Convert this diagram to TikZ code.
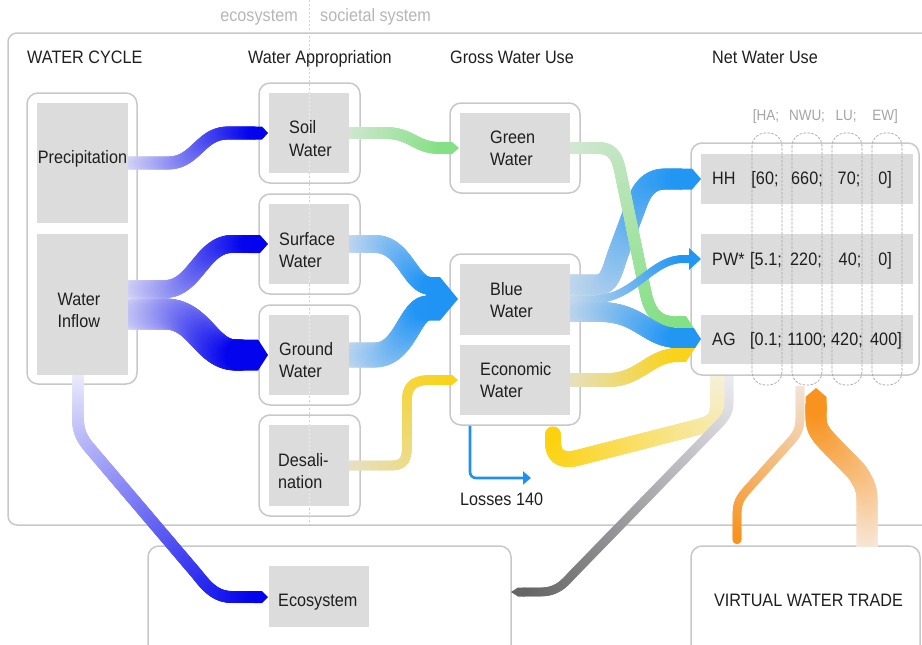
\documentclass[tikz,border=0pt]{standalone}
\usepackage{fontspec}
\setmainfont{Liberation Sans}[FakeStretch=0.9]
\usetikzlibrary{decorations.markings,calc,fit,arrows.meta}
\definecolor{bxline}{HTML}{C8C8C8}
\definecolor{bxfill}{HTML}{DCDCDC}
\definecolor{ink}{HTML}{1F1F1F}
\definecolor{faint}{HTML}{A4A4A4}
\definecolor{vl}{HTML}{D2D2D2}
\definecolor{vlb}{HTML}{EEEEEE}
\definecolor{pA}{HTML}{DADAF5}
\definecolor{pC}{HTML}{EEEEFB}
\definecolor{pB}{HTML}{0303EE}
\definecolor{sA}{HTML}{C9DBEF}
\definecolor{sB}{HTML}{2094F4}
\definecolor{bA}{HTML}{C9D9EB}
\definecolor{bB}{HTML}{2196F3}
\definecolor{gA}{HTML}{D3E7D3}
\definecolor{gB}{HTML}{84E084}
\definecolor{yA}{HTML}{E5E0C8}
\definecolor{yB}{HTML}{F9D31B}
\definecolor{lA}{HTML}{F5F1DF}
\definecolor{lB}{HTML}{FCD20F}
\definecolor{kA}{HTML}{EDEDF3}
\definecolor{kB}{HTML}{656565}
\definecolor{oA}{HTML}{F1E5DC}
\definecolor{oC}{HTML}{F7EBE1}
\definecolor{oB}{HTML}{F7931E}
\definecolor{loss}{HTML}{1E90F0}
\tikzset{
  gflow/.style n args={3}{
    postaction={decorate},
    decoration={markings,
      mark=between positions 0 and 1 step 1pt with {%
        \pgfmathsetmacro\fpct{min(100,max(0,100*(\pgfkeysvalueof{/pgf/decoration/mark info/distance from start}/\pgfdecoratedpathlength)))}%
        \fill[#3!\fpct!#2] (0,0) circle[radius={#1*0.5pt}];%
      }}},
  obox/.style={draw=bxline, line width=1.5pt, fill=white, rounded corners=11pt, inner sep=0pt},
  bigbox/.style={draw=bxline, line width=1.5pt, rounded corners=9pt, inner sep=0pt},
  spot/.style={inner sep=0pt},
  capsule/.style={draw=faint, dash pattern=on 2.5pt off 1.5pt, line width=0.7pt, rounded corners=13pt},
  lbl/.style={text=ink, inner sep=0pt, font=\fontsize{18pt}{22pt}\selectfont, anchor=base west},
  lblc/.style={lbl, anchor=base},
  colhdr/.style={text=faint, inner sep=0pt, font=\fontsize{15pt}{18pt}\selectfont, anchor=base},
  sysl/.style={text=faint!80, inner sep=0pt, font=\fontsize{18pt}{22pt}\selectfont},
  vline/.style={draw=vl, dash pattern=on 2pt off 2pt, line width=1pt},
}
\newcommand\tipR[5]{\fill[#5] ({#1-#3/2-2},{#2-#3/2}) -- (#1,{#2-#3/2}) -- ({#1+#4},#2) -- (#1,{#2+#3/2}) -- ({#1-#3/2-2},{#2+#3/2}) -- cycle;}
\newcommand\tipL[5]{\fill[#5] ({#1+#3/2+2},{#2-#3/2}) -- (#1,{#2-#3/2}) -- ({#1-#4},#2) -- (#1,{#2+#3/2}) -- ({#1+#3/2+2},{#2+#3/2}) -- cycle;}
\begin{document}
\begin{tikzpicture}[x=1pt,y=-1pt]
\clip (0,0) rectangle (922,645);
% frames
\node[bigbox, fit={(8,33) (940,525)}] (main) {};
\node[obox, fit={(27,93) (137,384)}] (wc) {};
\node[obox, fit={(259,83) (360,183)}] (soil) {};
\node[obox, fit={(259,194) (360,294)}] (surf) {};
\node[obox, fit={(259,305) (360,405)}] (grnd) {};
\node[obox, fit={(259,415) (360,516)}] (desal) {};
\node[obox, fit={(450,103) (580,193)}] (green) {};
\node[obox, fit={(450,254) (580,425)}] (blue) {};
\node[obox, fit={(691,143) (919,375)}] (nwu) {};
\node[obox, fit={(148,546) (511,665)}] (eco) {};
\node[obox, fit={(691,546) (920,665)}] (vwt) {};
\draw[vline] (309,0) -- (309,525);
% inner boxes (positions; filled later)
\node[spot, fit={(37,103) (128,223)}] (prec) {};
\node[spot, fit={(37,234) (128,375)}] (inflow) {};
\node[spot, fit={(269,93) (349,173)}] (soilin) {};
\node[spot, fit={(269,204) (349,284)}] (surfin) {};
\node[spot, fit={(269,315) (349,395)}] (grndin) {};
\node[spot, fit={(269,425) (349,506)}] (desalin) {};
\node[spot, fit={(460,113) (570,183)}] (greenin) {};
\node[spot, fit={(460,264) (570,335)}] (bluein) {};
\node[spot, fit={(460,345) (570,415)}] (econin) {};
\node[spot, fit={(701,154) (913,204)}] (hh) {};
\node[spot, fit={(701,234) (913,284)}] (pw) {};
\node[spot, fit={(701,315) (913,364)}] (ag) {};
\node[spot, fit={(269,566) (369,627)}] (ecoin) {};
% flows: water cycle -> appropriation
\path[gflow={13}{pA}{pB}] (prec.east) -- (168,163) .. controls (196,163) and (200,133) .. (228,133) -- ($(soilin.west)+(-14,0)$);
\tipR{262}{133}{13}{6}{pB}
\path[gflow={18}{pA}{pB}] ($(inflow.east)+(0,-15.5)$) -- (165,289) .. controls (195,289) and (202,244) .. (232,244) -- ($(surfin.west)+(-18,0)$);
\tipR{260}{244}{18}{8}{pB}
\path[gflow={31}{pA}{pB}] ($(inflow.east)+(0,9.5)$) -- (165,314) .. controls (200,314) and (206,355) .. (236,355) -- ($(grndin.west)+(-27,0)$);
\tipR{258}{355}{31}{10}{pB}
\path[gflow={12}{pC}{pB}] ($(inflow.south)+(-4.5,0)$) -- (78,418) .. controls (78,430) and (81,437) .. (88,446) -- (196,573) .. controls (205,584) and (214,597) .. (232,597) -- ($(ecoin.west)+(-13,0.5)$);
\tipR{262}{597}{12}{6}{pB}
% appropriation -> gross use
\path[gflow={12}{gA}{gB}] (soilin.east) -- (385,133) .. controls (412,133) and (415,148) .. (440,148) -- ($(greenin.west)+(-14,0)$);
\tipR{452}{148}{12}{7}{gB}
\path[gflow={18}{sA}{sB}] (surfin.east) -- (375,244) .. controls (405,244) and (410,286) .. ($(bluein.west)+(-29,-13.5)$);
\path[gflow={25}{sA}{sB}] (grndin.east) -- (375,355) .. controls (405,355) and (410,308) .. ($(bluein.west)+(-32,8.5)$);
\fill[sB] (426,277) -- (440,277) -- (458,299) -- (440,320.5) -- (426,320.5) -- cycle;
\path[gflow={10}{yA}{yB}] (desalin.east) -- (392,465.5) .. controls (405,465.5) and (407,458) .. (407,445) -- (407,400) .. controls (407,386) and (414,380) .. (430,380) -- ($(econin.west)+(-13,0)$);
\tipR{452}{380}{10}{6}{yB}
% gross use -> net use
\path[gflow={21}{bA}{bB}] ($(bluein.east)+(0,-14.5)$) -- (598,285) .. controls (610,285) and (613,268) .. (618,254) -- (637,203) .. controls (642,189) and (650,179) .. (665,179) -- ($(hh.west)+(-19.5,0)$);
\tipR{692}{179}{21}{9}{bB}
\path[gflow={12}{gA}{gB}] (greenin.east) -- (598,148) .. controls (615,148) and (618,160) .. (621,175) -- (645,290) .. controls (649,310) and (656,322) .. ($(ag.west)+(-27,-17.5)$);
\path[gflow={8}{bA}{bB}] (bluein.east) -- (592,299.5) .. controls (635,299.5) and (650,259) .. ($(pw.west)+(-17,0)$);
\fill[bB] (684,255) -- (689,255) -- (689,248) -- (701,259) -- (689,270) -- (689,263) -- (684,263) -- cycle;
\path[gflow={20}{bA}{bB}] ($(bluein.east)+(0,12.5)$) -- (600,312) .. controls (640,312) and (648,338) .. ($(ag.west)+(-23,-1.5)$);
\path[gflow={14}{yA}{yB}] (econin.east) -- (608,380) .. controls (640,380) and (650,355) .. ($(ag.west)+(-23,15.5)$);
\fill[gB] (676,316) -- (686,316) -- (693.8,328) -- (676,328) -- cycle;
\fill[bB] (676,328) -- (693.8,328) -- (701,339) -- (695.1,348) -- (676,348) -- cycle;
\fill[yB] (676,348) -- (695.1,348) -- (686,362) -- (676,362) -- cycle;
% flows leaving the net water use box
\begin{scope}
\clip (0,376) rectangle (922,645);
\path[gflow={16}{lA}{lB}] ($(nwu.south)+(-87,0)$) -- (718,405) .. controls (718,420) and (712,423) .. (698,427) -- (577,458) .. controls (560,462) and (553,455) .. (553,442) -- ($(blue.south)+(38,8)$);
\path[gflow={9}{kA}{kB}] ($(nwu.south)+(-76,0)$) -- (729,402) .. controls (729,412) and (726,416) .. (720,423) -- (572,575) .. controls (563,585) and (556,592) .. (540,592) -- ($(eco.east)+(11,-13.5)$);
\end{scope}
\tipL{518}{592}{9}{7}{kB}
% virtual water trade
\begin{scope}
\clip (0,386) rectangle (922,546);
\path[gflow={9}{oA}{oB}] ($(nwu.south)+(-5,11)$) -- (800,418) .. controls (800,429) and (797,434) .. (791,441) -- (747,490) .. controls (740,498) and (737,503) .. (737,515) -- ($(vwt.north)+(-68.5,-5)$);
\path[gflow={21}{oC}{oB}] ($(vwt.north)+(61.5,2)$) -- (867,500) .. controls (867,488) and (864,483) .. (857,472) -- (826,440) .. controls (819,432) and (816,427) .. (816,417) -- ($(nwu.south)+(11,29)$);
\end{scope}
\fill[oB] (805.5,412) -- (805.5,397) -- (816,388) -- (826.5,397) -- (826.5,412) -- cycle;
% losses
\draw[loss, line width=2.6pt, rounded corners=6pt, -{Triangle[length=8pt,width=13pt]}] ($(blue.south)+(-45,0)$) -- (470,478) -- (531,478);
% grey boxes
\foreach \n in {prec,inflow,soilin,surfin,grndin,desalin,greenin,bluein,econin,hh,pw,ag,ecoin}
  \fill[bxfill] (\n.south west) rectangle (\n.north east);
\foreach \a/\b in {93/173,204/284,315/395,425/506}
  \draw[vline, draw=vlb] (309,\a) -- (309,\b);
% dashed columns
\foreach \cx in {767,807,847,887}
  \draw[capsule] ({\cx-15},133) rectangle ({\cx+15},385);
% texts
\node[sysl, anchor=base east] at (298,21.5) {ecosystem};
\node[sysl, anchor=base west] at (320,21.5) {societal system};
\node[lbl] at (27,63) {WATER CYCLE};
\node[lbl] at (248,63) {Water Appropriation};
\node[lbl] at (450,63) {Gross Water Use};
\node[lbl] at (712,63) {Net Water Use};
\node[lblc] at (82.5,163.5) {Precipitation};
\node[lbl] at (57.5,305) {Water};
\node[lbl] at (57.5,327) {Inflow};
\node[lbl] at (289,133.5) {Soil};
\node[lbl] at (289,156) {Water};
\node[lbl] at (279,245) {Surface};
\node[lbl] at (279,267) {Water};
\node[lbl] at (279,355.5) {Ground};
\node[lbl] at (279,377.5) {Water};
\node[lbl] at (278,466.5) {Desali-};
\node[lbl] at (278,488.5) {nation};
\node[lbl] at (490,143.5) {Green};
\node[lbl] at (490,165.5) {Water};
\node[lbl] at (490,295) {Blue};
\node[lbl] at (490,317) {Water};
\node[lbl] at (480,375) {Economic};
\node[lbl] at (480,397) {Water};
\node[lbl] at (460,505) {Losses 140};
\node[lbl] at (278,606.5) {Ecosystem};
\node[lblc] at (808.5,606.5) {VIRTUAL WATER TRADE};
\node[colhdr] at (766,120) {[HA;};
\node[colhdr] at (807,120) {NWU;};
\node[colhdr] at (846,120) {LU;};
\node[colhdr] at (885,120) {EW]};
\node[lbl] at (712,184) {HH};
\node[lbl] at (712,265) {PW*};
\node[lbl] at (712,345.5) {AG};
\node[lblc] at (765,184) {[60;};
\node[lblc] at (807,184) {660;};
\node[lblc] at (849,184) {70;};
\node[lblc] at (885,184) {0]};
\node[lblc] at (766,265) {[5.1;};
\node[lblc] at (806,265) {220;};
\node[lblc] at (850,265) {40;};
\node[lblc] at (885,265) {0]};
\node[lblc] at (766,345.5) {[0.1;};
\node[lblc] at (807,345.5) {1100;};
\node[lblc] at (847,345.5) {420;};
\node[lblc] at (886,345.5) {400]};
\end{tikzpicture}
\end{document}
